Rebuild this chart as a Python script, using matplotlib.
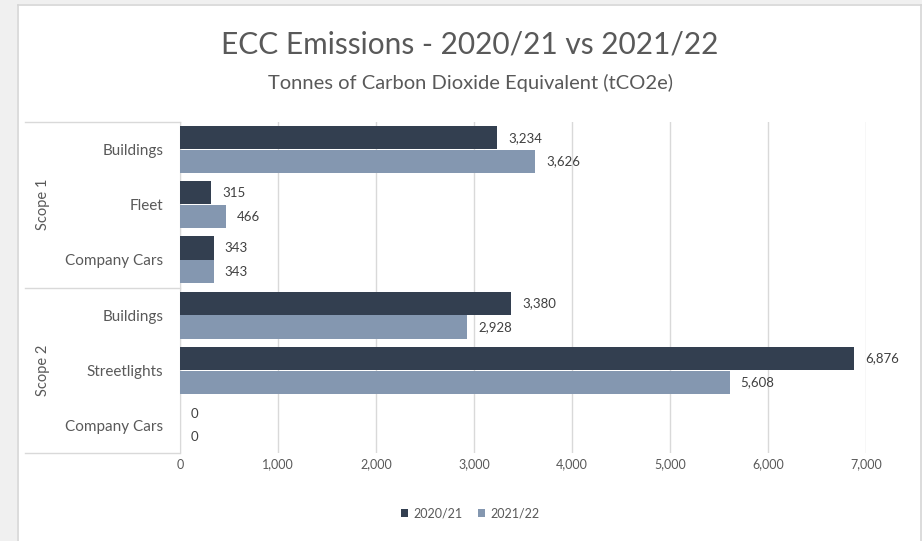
import numpy as np
import matplotlib.pyplot as plt
from matplotlib.patches import Rectangle

plt.rcParams['font.family'] = ['Lato', 'DejaVu Sans']

# Data
categories = ['Buildings', 'Fleet', 'Company Cars', 'Buildings', 'Streetlights', 'Company Cars']
scopes = ['Scope 1', 'Scope 2']
vals_2021 = [3234, 315, 343, 3380, 6876, 0]
vals_2122 = [3626, 466, 343, 2928, 5608, 0]
series = ['2020/21', '2021/22']
xticks = [0, 1000, 2000, 3000, 4000, 5000, 6000, 7000]

dark = '#333f50'
light = '#8497b0'
txt = '#595959'
gridc = '#d9d9d9'

fig = plt.figure(figsize=(9.22, 5.41), dpi=100)
fig.patch.set_facecolor('white')

# grey window frame around the chart
fig.patches.append(Rectangle((0, 0), 17 / 922, 1, transform=fig.transFigure,
                             facecolor='#f0f0f0', edgecolor='none', zorder=-1))
fig.patches.append(Rectangle((0, 1 - 4 / 541), 1, 4 / 541, transform=fig.transFigure,
                             facecolor='#f0f0f0', edgecolor='none', zorder=-1))
fig.add_artist(plt.Line2D([17.5 / 922, 17.5 / 922], [0, 1 - 4.5 / 541], color='#d6d6d6', lw=1.2))
fig.add_artist(plt.Line2D([17.5 / 922, 1], [1 - 4.5 / 541, 1 - 4.5 / 541], color='#d6d6d6', lw=1.2))
fig.add_artist(plt.Line2D([920.5 / 922, 920.5 / 922], [0, 1 - 4.5 / 541], color='#d6d6d6', lw=1.2))

ax = fig.add_axes([180 / 922, 1 - 453 / 541, 686 / 922, 331 / 541])

y = np.arange(len(categories))
h = 0.42
ax.barh(y - 0.215, vals_2021, height=h, color=dark, label=series[0], zorder=3)
ax.barh(y + 0.215, vals_2122, height=h, color=light, label=series[1], zorder=3)

for yi, v in zip(y, vals_2021):
    ax.annotate(f'{v:,}', (v, yi - 0.215), xytext=(8, 0), textcoords='offset points',
                va='center', ha='left', fontsize=9.5, color='#404040')
for yi, v in zip(y, vals_2122):
    ax.annotate(f'{v:,}', (v, yi + 0.215), xytext=(8, 0), textcoords='offset points',
                va='center', ha='left', fontsize=9.5, color='#404040')

ax.set_xlim(0, 7000)
ax.set_ylim(len(categories) - 0.5, -0.5)
ax.set_xticks(xticks)
ax.set_xticklabels([f'{t:,}' for t in xticks], fontsize=9, color=txt)
ax.set_yticks(y)
ax.set_yticklabels(categories, fontsize=11, color=txt)
ax.tick_params(axis='both', length=0)
ax.tick_params(axis='y', pad=12)
ax.tick_params(axis='x', pad=4)
ax.grid(axis='x', color=gridc, lw=1, zorder=0)
for s in ['top', 'right', 'bottom']:
    ax.spines[s].set_visible(False)
ax.spines['left'].set_color(gridc)

# multi-level category axis: group separators and scope labels
tr = ax.get_yaxis_transform()
for yb in [-0.5, 2.5, 5.5]:
    ax.plot([-0.226, 0], [yb, yb], transform=tr, color=gridc, lw=1, clip_on=False)
for i, s in enumerate(scopes):
    ax.text(-0.2, 1 + 3 * i, s, transform=tr, rotation=90, ha='center', va='center',
            fontsize=10.5, color=txt)

fig.text(470 / 922, 1 - 45 / 541, 'ECC Emissions - 2020/21 vs 2021/22', ha='center', va='center',
         fontsize=21.5, color=txt)
fig.text(470 / 922, 1 - 83 / 541, 'Tonnes of Carbon Dioxide Equivalent (tCO2e)', ha='center',
         va='center', fontsize=14.5, color=txt)

fig.legend(loc='center', bbox_to_anchor=(470 / 922, 1 - 513 / 541), ncol=2, frameon=False,
           fontsize=9, labelcolor=txt, handlelength=0.6, handleheight=0.6, handletextpad=0.4,
           columnspacing=1.2)

fig.savefig('out.png', dpi=100)
